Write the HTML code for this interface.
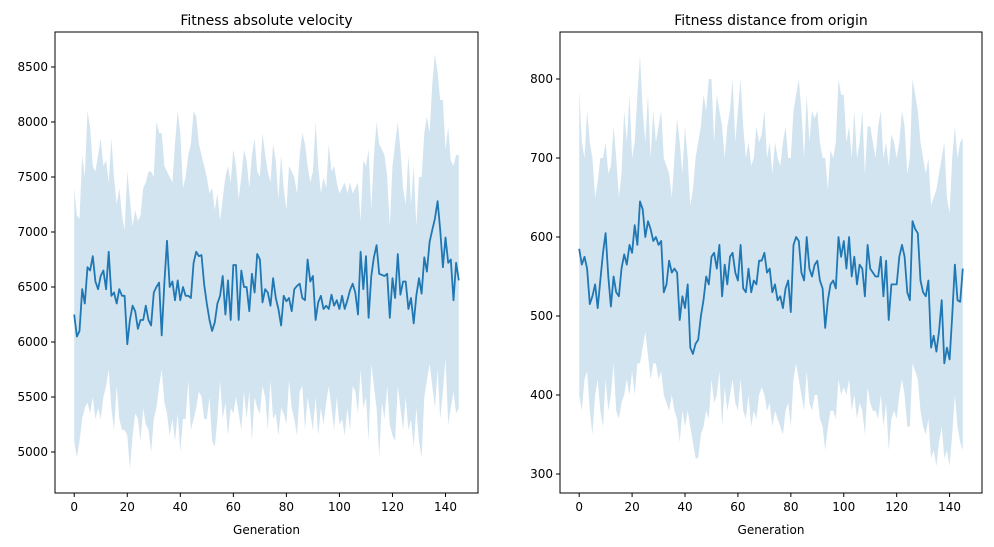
<!DOCTYPE html>
<html><head><meta charset="utf-8"><style>
body{margin:0;background:#fff;}
svg{display:block;font-family:"DejaVu Sans","Liberation Sans",sans-serif;}
</style></head><body>
<svg id="chart" width="994" height="547" viewBox="0 0 994 547"></svg>
<script>
const generationsCount = 146;
const velMean = [6250,6050,6100,6480,6350,6680,6650,6780,6550,6480,
6600,6650,6480,6820,6420,6450,6350,6480,6420,6420,
5980,6200,6330,6280,6120,6200,6200,6330,6200,6150,
6450,6500,6540,6060,6540,6920,6500,6550,6380,6560,
6380,6500,6420,6420,6400,6720,6820,6780,6790,6520,
6350,6200,6100,6180,6350,6420,6600,6250,6560,6200,
6700,6700,6200,6650,6500,6500,6280,6620,6450,6800,
6750,6360,6480,6450,6330,6580,6400,6300,6150,6420,
6370,6400,6280,6480,6510,6530,6400,6380,6750,6550,
6600,6200,6360,6420,6300,6330,6300,6430,6330,6380,
6300,6420,6300,6380,6470,6530,6450,6250,6820,6480,
6780,6220,6600,6770,6880,6620,6610,6600,6620,6220,
6580,6400,6800,6430,6550,6550,6300,6400,6170,6420,
6580,6440,6770,6640,6910,7020,7120,7280,7020,6680,
6950,6720,6750,6380,6720,6560];
const velUpper = [7400,7150,7120,7700,7500,8100,7950,7600,7550,7700,
7850,7600,7650,7450,7850,7500,7250,7400,7150,7020,
7550,7300,7050,7200,7100,7150,7400,7450,7550,7550,
7500,8000,7900,7900,7600,7550,7500,7450,7800,8100,
7900,7400,7500,7700,7800,8100,8050,7800,7700,7600,
7500,7350,7400,7200,7350,7100,7300,7500,7600,7450,
7750,7600,7300,7500,7750,7650,7400,7700,7850,7550,
7500,7900,7700,7550,7450,7800,7650,7300,7700,7400,
7200,7600,7550,7500,7350,7700,7900,7800,7600,7450,
7550,8000,7600,7350,7500,7400,7800,7550,7600,7450,
7350,7400,7450,7350,7450,7350,7400,7450,7100,7650,
7600,7750,7200,7700,8000,7800,7750,7700,7500,7050,
7600,7800,8000,7750,7400,7250,7700,7250,7600,7050,
7500,7500,7900,8050,7900,8350,8620,8450,8200,8200,
7750,7950,7650,7600,7700,7700];
const velLower = [5100,4950,5100,5300,5400,5450,5350,5500,5300,5400,
5300,5500,5600,5750,5400,5200,5600,5300,5200,5200,
5150,4850,5150,5350,5300,5100,5400,5250,5200,5000,
5300,5400,5600,5750,5450,5350,5150,5300,5100,5350,
5000,5300,5300,5650,5200,5300,5400,5550,5500,5300,
5300,5500,5100,5050,5300,5650,5300,5450,5150,5400,
5350,5500,5350,5200,5550,5300,5550,5100,5500,5400,
5350,5600,5500,5200,5650,5300,5350,5150,5400,5350,
5250,5650,5400,5300,5150,5550,5600,5200,5500,5350,
5200,5500,5150,5400,5250,5450,5600,5400,5200,5500,
5250,5300,5150,5400,5200,5600,5550,5350,5750,5400,
5500,5100,5800,5600,5400,4950,5450,5300,5600,5250,
5150,5100,5600,5400,5200,5500,5200,5300,5050,5400,
5100,4950,5500,5650,5800,5600,5400,5750,5300,5550,
5850,5250,5400,5550,5350,5400];
const distMean = [585,565,575,560,515,525,540,510,545,580,
605,550,512,550,530,525,560,578,565,590,
580,615,590,645,635,600,620,610,595,600,
590,595,530,540,570,555,560,555,495,525,
510,540,460,452,465,470,500,520,550,540,
575,580,560,590,525,565,540,575,580,555,
545,590,535,530,560,530,545,540,570,570,
580,555,560,530,540,520,525,510,535,545,
505,590,600,595,555,545,600,560,550,565,
570,545,535,485,520,540,545,535,600,575,
595,560,600,550,575,540,565,560,525,590,
560,555,550,550,575,525,570,495,540,540,
540,575,590,575,530,520,620,610,605,545,
530,525,545,460,475,455,480,520,440,460,
445,500,565,520,518,560];
const distUpper = [785,720,700,760,720,700,650,670,700,700,
720,680,690,740,700,650,680,760,720,780,
700,720,780,830,760,720,780,700,760,720,
740,760,700,690,680,650,700,750,720,680,
740,700,640,660,700,720,740,780,760,800,
800,720,780,760,740,700,740,760,800,720,
760,800,740,700,720,690,700,740,720,730,
760,700,720,680,720,700,690,720,740,700,
700,760,780,800,760,700,780,720,760,750,
760,720,700,700,660,710,700,720,800,780,
780,720,740,700,760,700,720,760,680,740,
740,720,700,740,760,700,720,690,730,720,
700,720,760,740,680,700,800,780,760,720,
700,680,700,640,650,660,680,700,720,650,
630,700,740,700,720,725];
const distLower = [400,380,420,430,380,350,400,420,380,360,
420,380,400,440,380,370,390,400,420,400,
430,400,440,440,460,480,450,420,440,440,
420,430,400,390,380,400,380,370,340,380,
360,380,360,340,320,320,350,360,380,370,
420,390,400,430,360,410,380,400,420,390,
380,420,380,370,400,360,380,370,400,410,
400,380,390,360,380,370,360,350,380,390,
360,420,440,420,400,380,430,390,380,400,
400,370,360,330,360,380,380,370,420,400,
410,400,420,380,400,370,390,380,350,410,
390,380,380,370,400,360,390,330,370,380,
370,400,420,400,360,360,440,430,420,380,
360,350,370,320,330,310,340,360,320,330,
310,350,400,360,340,330];
const xTicks = [0,20,40,60,80,100,120,140];
const velTicks = [5000,5500,6000,6500,7000,7500,8000,8500];
const distTicks = [300,400,500,600,700,800];

const NS="http://www.w3.org/2000/svg";
const svg=document.getElementById('chart');
function mk(tag,attrs,parent){const e=document.createElementNS(NS,tag);for(const k in attrs)e.setAttribute(k,attrs[k]);(parent||svg).appendChild(e);return e;}

function panel(opt){
  const g=mk('g',{});
  
  
  const L=opt.left,R=opt.right,T=32,B=493;
  const n=generationsCount;
  const xmin=-0.05*(n-1),xmax=(n-1)*1.05;
  const X=v=>L+(v-xmin)/(xmax-xmin)*(R-L);
  const Y=v=>opt.y0+(opt.v0-v)*opt.k;
  let d='';
  opt.upper.forEach((v,i)=>{d+=(i?'L':'M')+X(i).toFixed(1)+','+Y(v).toFixed(1);});
  for(let i=opt.lower.length-1;i>=0;i--)d+='L'+X(i).toFixed(1)+','+Y(opt.lower[i]).toFixed(1);
  const band=mk('path',{d:d+'Z',fill:'#1f77b4','fill-opacity':'0.2',stroke:'none'},g);
  
  
  let m='';
  opt.mean.forEach((v,i)=>{m+=(i?'L':'M')+X(i).toFixed(1)+','+Y(v).toFixed(1);});
  const line=mk('path',{d:m,fill:'none',stroke:'#1f77b4','stroke-width':'1.8','stroke-linejoin':'round'},g);
  
  
  const frame=mk('rect',{x:L,y:T,width:R-L,height:B-T,fill:'none',stroke:'#000','stroke-width':'1'},g);
  
  
  xTicks.forEach(t=>{
    const x=X(t);
    mk('line',{x1:x,x2:x,y1:B,y2:B+4,stroke:'#000'},g);
    const tx=mk('text',{x:x,y:B+18,'text-anchor':'middle','font-size':'12'},g);
    tx.textContent=t;
    
    
  });
  opt.ticks.forEach(t=>{
    const y=Y(t);
    mk('line',{x1:L-4,x2:L,y1:y,y2:y,stroke:'#000'},g);
    const tx=mk('text',{x:L-7,y:y+4,'text-anchor':'end','font-size':'12'},g);
    tx.textContent=t;
    
    
  });
  const xl=mk('text',{x:(L+R)/2,y:534,'text-anchor':'middle','font-size':'12'},g);
  xl.textContent='Generation';
  
  
  const ti=mk('text',{x:(L+R)/2,y:25,'text-anchor':'middle','font-size':'14'},g);
  ti.textContent=opt.title;
  
  
}
panel({name:'velocity-panel',left:55,right:478,mean:velMean,upper:velUpper,lower:velLower,ticks:velTicks,y0:67,v0:8500,k:0.11,title:'Fitness absolute velocity'});
panel({name:'distance-panel',left:560,right:982,mean:distMean,upper:distUpper,lower:distLower,ticks:distTicks,y0:79,v0:800,k:0.79,title:'Fitness distance from origin'});
</script>
</body></html>
